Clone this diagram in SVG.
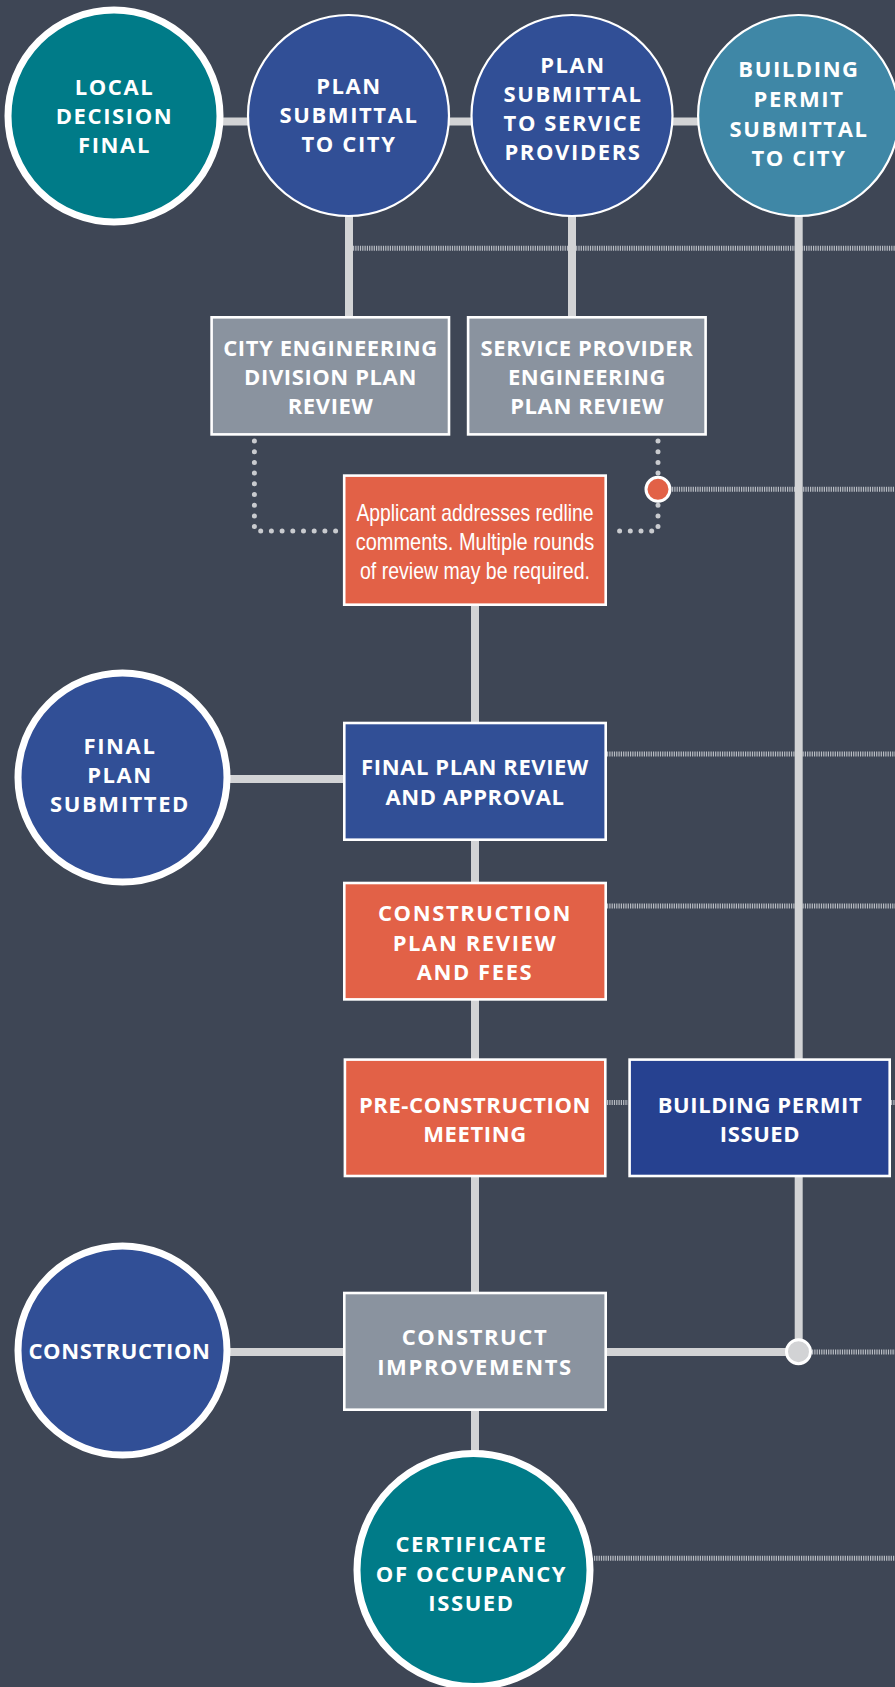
<svg xmlns="http://www.w3.org/2000/svg" width="895" height="1687" viewBox="0 0 895 1687">
<style>
.bg{fill:#3e4655}
.conn{stroke:#d2d3d5;stroke-width:8;fill:none}
.hatch{stroke:#b9bdc4;stroke-width:5;stroke-dasharray:1.2 1.1;fill:none}
.dots{stroke:#c9cbcf;stroke-width:5;stroke-linecap:round;stroke-dasharray:0 10.7;fill:none}
.ring{stroke:#ffffff;stroke-width:7}
.thin{stroke:#ffffff;stroke-width:2.2}
.box{stroke:#ffffff;stroke-width:2.6}
.teal{fill:#007b88}
.blue{fill:#314f96}
.lblue{fill:#3f87a6}
.gray{fill:#8a939f}
.orange{fill:#e26147}
.dblue{fill:#264190}
.t{font-family:"Open Sans","Noto Sans","DejaVu Sans",sans-serif;font-weight:700;font-size:22px;fill:#ffffff;text-anchor:middle;letter-spacing:1.6px}
.tb{letter-spacing:0.6px}
.cond{font-family:"Liberation Sans Narrow","Liberation Sans",sans-serif;font-weight:400;font-size:24px;fill:#ffffff;text-anchor:middle;letter-spacing:0}
</style>
<rect class="bg" x="0" y="0" width="895" height="1687"/>
<g id="connectors">
  <path class="hatch" d="M353,248.3 H895"/>
  <path class="hatch" d="M672,489.3 H895"/>
  <path class="hatch" d="M607,754 H895"/>
  <path class="hatch" d="M607,906 H895"/>
  <path class="hatch" d="M607,1102.5 H628 M891,1102.5 H895"/>
  <path class="hatch" d="M812,1352 H895"/>
  <path class="hatch" d="M594,1558.3 H895"/>
  <path class="conn" d="M200,121.5 H720"/>
  <path class="conn" d="M349,200 V317"/>
  <path class="conn" d="M572,200 V317"/>
  <path class="conn" d="M798.7,200 V1352"/>
  <path class="conn" d="M475,600 V1460"/>
  <path class="conn" d="M200,779 H345"/>
  <path class="conn" d="M200,1352 H345"/>
  <path class="conn" d="M605,1352 H798"/>
  <path class="dots" d="M254.4,441 V531 H338"/>
  <path class="dots" d="M658,441 V531 H613"/>
  <circle cx="658" cy="489.3" r="12" fill="#e26147" stroke="#ffffff" stroke-width="3"/>
  <circle cx="798.5" cy="1351.7" r="12" fill="#d2d3d5" stroke="#ffffff" stroke-width="3"/>
</g>
<g id="local-decision-final">
  <circle class="teal ring" cx="114" cy="116" r="106"/>
  <text class="t" x="114.5" y="95">LOCAL</text>
  <text class="t" x="114.5" y="124">DECISION</text>
  <text class="t" x="114.5" y="153">FINAL</text>
</g>
<g id="plan-submittal-city">
  <circle class="blue thin" cx="348.5" cy="115.5" r="100.5"/>
  <text class="t" x="349" y="94.3">PLAN</text>
  <text class="t" x="349" y="123.3">SUBMITTAL</text>
  <text class="t" x="349" y="152.3">TO CITY</text>
</g>
<g id="plan-submittal-providers">
  <circle class="blue thin" cx="572" cy="115.5" r="100.5"/>
  <text class="t" x="573" y="72.7">PLAN</text>
  <text class="t" x="573" y="101.7">SUBMITTAL</text>
  <text class="t" x="573" y="131">TO SERVICE</text>
  <text class="t" x="573" y="160">PROVIDERS</text>
</g>
<g id="building-permit-submittal">
  <circle class="lblue thin" cx="798.6" cy="115.5" r="100.5"/>
  <text class="t" x="799" y="77.3">BUILDING</text>
  <text class="t" x="799" y="107">PERMIT</text>
  <text class="t" x="799" y="136.5">SUBMITTAL</text>
  <text class="t" x="799" y="165.7">TO CITY</text>
</g>
<g id="city-engineering-review">
  <rect class="gray box" x="211.6" y="317.3" width="237.4" height="117.1"/>
  <text class="t tb" x="330.5" y="356">CITY ENGINEERING</text>
  <text class="t tb" x="330.5" y="385">DIVISION PLAN</text>
  <text class="t tb" x="330.5" y="414.3">REVIEW</text>
</g>
<g id="service-provider-review">
  <rect class="gray box" x="468.1" y="317.3" width="237.5" height="117.1"/>
  <text class="t tb" x="587" y="356">SERVICE PROVIDER</text>
  <text class="t tb" x="587" y="385">ENGINEERING</text>
  <text class="t tb" x="587" y="414.3">PLAN REVIEW</text>
</g>
<g id="applicant-redline">
  <rect class="orange box" x="344.2" y="475.6" width="261.5" height="129.1"/>
  <text class="cond" x="475" y="520.7" textLength="237" lengthAdjust="spacingAndGlyphs">Applicant addresses redline</text>
  <text class="cond" x="475" y="550" textLength="238.5" lengthAdjust="spacingAndGlyphs">comments. Multiple rounds</text>
  <text class="cond" x="475" y="579.3" textLength="230" lengthAdjust="spacingAndGlyphs">of review may be required.</text>
</g>
<g id="final-plan-submitted">
  <circle class="blue ring" cx="122.5" cy="777.5" r="104.5"/>
  <text class="t" x="120" y="754.3">FINAL</text>
  <text class="t" x="120" y="783.3">PLAN</text>
  <text class="t" x="120" y="812.3">SUBMITTED</text>
</g>
<g id="final-plan-review">
  <rect class="blue box" x="344.3" y="723" width="261.4" height="116.7"/>
  <text class="t tb" x="475" y="775">FINAL PLAN REVIEW</text>
  <text class="t tb" x="475" y="805">AND APPROVAL</text>
</g>
<g id="construction-plan-review">
  <rect class="orange box" x="344.3" y="883" width="261.4" height="116.4"/>
  <text class="t" x="475" y="921">CONSTRUCTION</text>
  <text class="t" x="475" y="951">PLAN REVIEW</text>
  <text class="t" x="475" y="980">AND FEES</text>
</g>
<g id="pre-construction-meeting">
  <rect class="orange box" x="344.9" y="1059.6" width="260.4" height="116.4"/>
  <text class="t tb" x="475" y="1113.3">PRE-CONSTRUCTION</text>
  <text class="t tb" x="475" y="1142">MEETING</text>
</g>
<g id="building-permit-issued">
  <rect class="dblue box" x="629.6" y="1059.6" width="260.1" height="116.4"/>
  <text class="t tb" x="760" y="1113.3">BUILDING PERMIT</text>
  <text class="t tb" x="760" y="1142">ISSUED</text>
</g>
<g id="construction">
  <circle class="blue ring" cx="122.5" cy="1350.5" r="104.5"/>
  <text class="t" x="119.5" y="1359.3" style="letter-spacing:0.6px">CONSTRUCTION</text>
</g>
<g id="construct-improvements">
  <rect class="gray box" x="344.3" y="1293" width="261.4" height="116.7"/>
  <text class="t" x="475" y="1345">CONSTRUCT</text>
  <text class="t" x="475" y="1375">IMPROVEMENTS</text>
</g>
<g id="certificate-of-occupancy">
  <circle class="teal ring" cx="473.5" cy="1570" r="116.5"/>
  <text class="t" x="471.5" y="1551.7">CERTIFICATE</text>
  <text class="t" x="471.5" y="1581.7">OF OCCUPANCY</text>
  <text class="t" x="471.5" y="1610.7">ISSUED</text>
</g>
</svg>
